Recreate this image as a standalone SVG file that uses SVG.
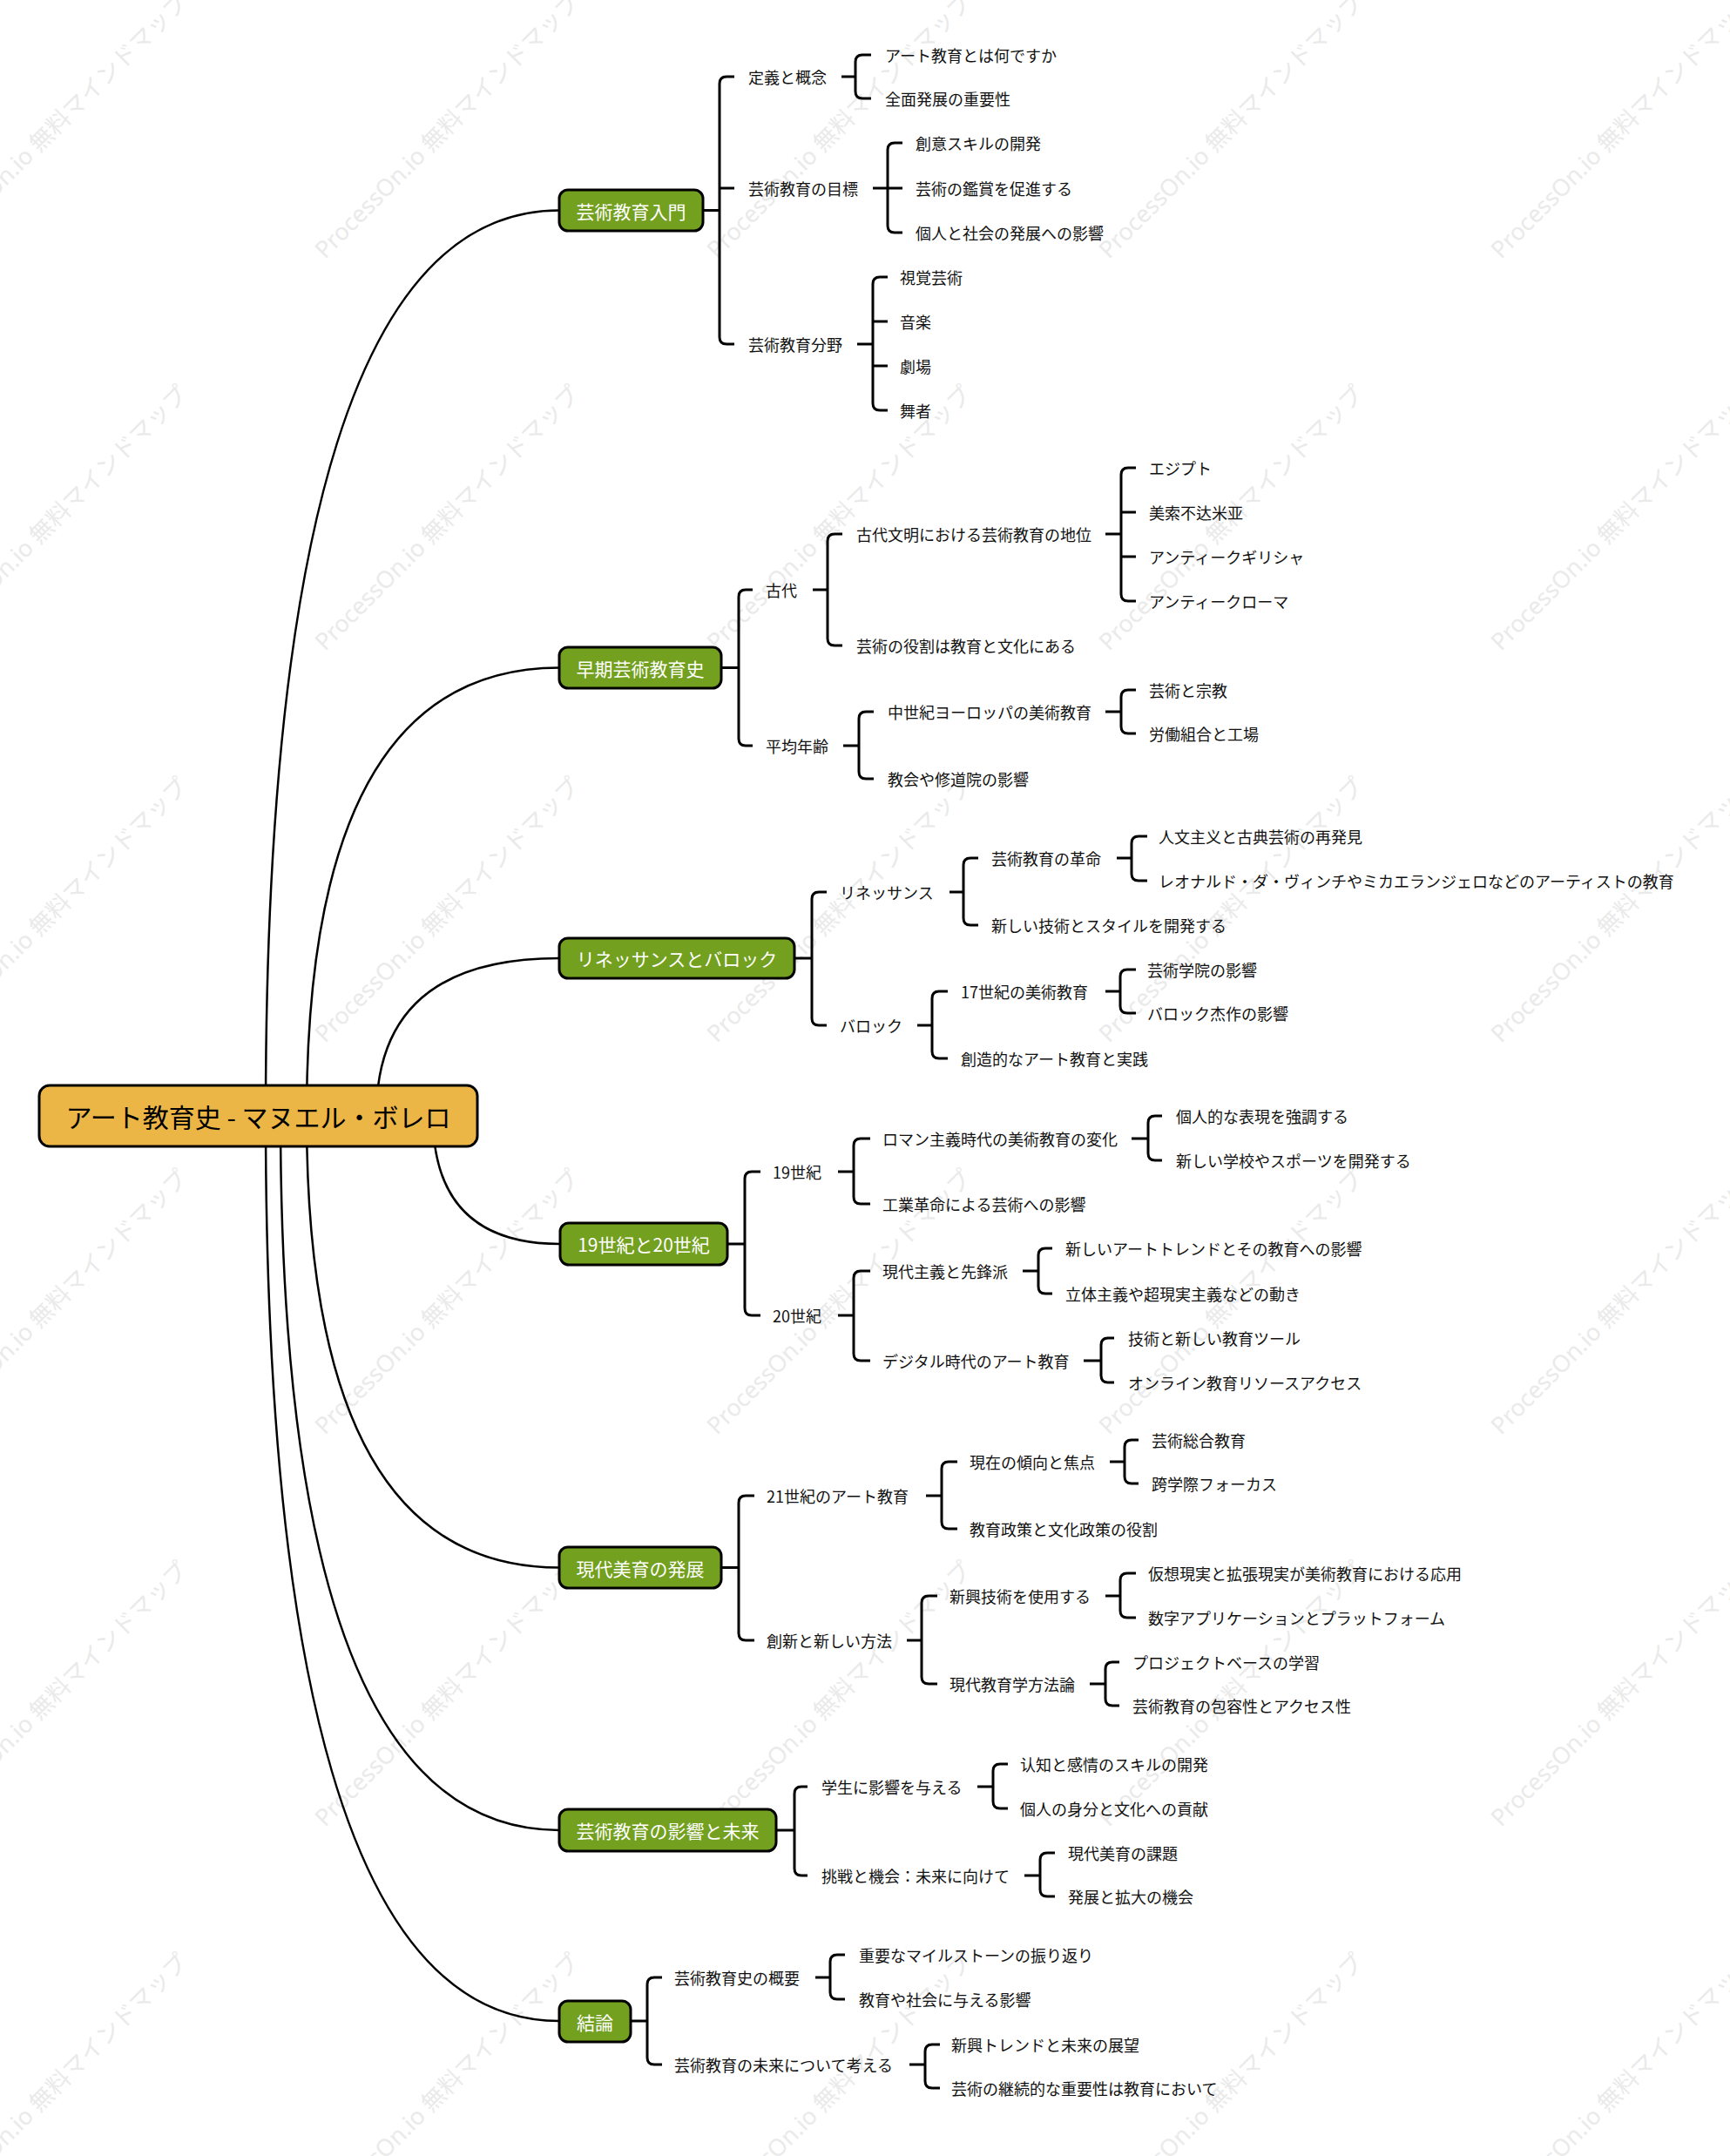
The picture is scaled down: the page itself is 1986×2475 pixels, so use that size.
<svg xmlns="http://www.w3.org/2000/svg" xmlns:xlink="http://www.w3.org/1999/xlink" width="1986" height="2475" viewBox="0 0 1986 2475">
<style>
.wm{font-family:"Noto Sans","Noto Sans CJK JP",sans-serif;font-size:27px;fill:#EAEAEA}
.conn{fill:none;stroke:#000;stroke-width:2.5}
.br{fill:none;stroke:#000;stroke-width:3;stroke-linecap:butt}
.t{font-family:"Noto Sans CJK JP","Noto Sans",sans-serif;font-size:18px;fill:#111;dominant-baseline:central}
.main rect{fill:#73A01F;stroke:#000;stroke-width:3}
.main text{font-family:"Noto Sans CJK JP","Noto Sans",sans-serif;font-size:21px;fill:#fff;text-anchor:middle;dominant-baseline:central}
.root rect{fill:#ECB647;stroke:#000;stroke-width:3}
.root text{font-family:"Noto Sans CJK JP","Noto Sans",sans-serif;font-size:30px;fill:#000;text-anchor:middle;dominant-baseline:central}
</style>
<defs>
<text id="wmt" class="wm">ProcessOn.io 無料マインドマップ</text>
</defs>
<rect width="1986" height="2475" fill="#fff"/>
<g id="watermark">
<use xlink:href="#wmt" transform="translate(-77,298) rotate(-45)"/>
<use xlink:href="#wmt" transform="translate(373,298) rotate(-45)"/>
<use xlink:href="#wmt" transform="translate(823,298) rotate(-45)"/>
<use xlink:href="#wmt" transform="translate(1273,298) rotate(-45)"/>
<use xlink:href="#wmt" transform="translate(1723,298) rotate(-45)"/>
<use xlink:href="#wmt" transform="translate(-77,748) rotate(-45)"/>
<use xlink:href="#wmt" transform="translate(373,748) rotate(-45)"/>
<use xlink:href="#wmt" transform="translate(823,748) rotate(-45)"/>
<use xlink:href="#wmt" transform="translate(1273,748) rotate(-45)"/>
<use xlink:href="#wmt" transform="translate(1723,748) rotate(-45)"/>
<use xlink:href="#wmt" transform="translate(-77,1198) rotate(-45)"/>
<use xlink:href="#wmt" transform="translate(373,1198) rotate(-45)"/>
<use xlink:href="#wmt" transform="translate(823,1198) rotate(-45)"/>
<use xlink:href="#wmt" transform="translate(1273,1198) rotate(-45)"/>
<use xlink:href="#wmt" transform="translate(1723,1198) rotate(-45)"/>
<use xlink:href="#wmt" transform="translate(-77,1648) rotate(-45)"/>
<use xlink:href="#wmt" transform="translate(373,1648) rotate(-45)"/>
<use xlink:href="#wmt" transform="translate(823,1648) rotate(-45)"/>
<use xlink:href="#wmt" transform="translate(1273,1648) rotate(-45)"/>
<use xlink:href="#wmt" transform="translate(1723,1648) rotate(-45)"/>
<use xlink:href="#wmt" transform="translate(-77,2098) rotate(-45)"/>
<use xlink:href="#wmt" transform="translate(373,2098) rotate(-45)"/>
<use xlink:href="#wmt" transform="translate(823,2098) rotate(-45)"/>
<use xlink:href="#wmt" transform="translate(1273,2098) rotate(-45)"/>
<use xlink:href="#wmt" transform="translate(1723,2098) rotate(-45)"/>
<use xlink:href="#wmt" transform="translate(-77,2548) rotate(-45)"/>
<use xlink:href="#wmt" transform="translate(373,2548) rotate(-45)"/>
<use xlink:href="#wmt" transform="translate(823,2548) rotate(-45)"/>
<use xlink:href="#wmt" transform="translate(1273,2548) rotate(-45)"/>
<use xlink:href="#wmt" transform="translate(1723,2548) rotate(-45)"/>
</g>
<g id="connectors">
<path class="conn" d="M305,1281 Q305,241.5 642,241.5"/>
<path class="conn" d="M352,1281 Q352,766.5 642,766.5"/>
<path class="conn" d="M432,1281 Q432,1100 642,1100"/>
<path class="conn" d="M497,1281 Q497,1428 643,1428"/>
<path class="conn" d="M352,1281 Q352,1799.5 642,1799.5"/>
<path class="conn" d="M322,1281 Q322,2101 642,2101"/>
<path class="conn" d="M305,1281 Q305,2320 642,2320"/>
<path class="br" d="M807,241.5H826 M843,88H834Q826,88 826,96V387Q826,395 834,395H843 M826,216H843"/>
<path class="br" d="M966,88H982 M1000,63H990Q982,63 982,71V105Q982,113 990,113H1000"/>
<path class="br" d="M1002,216H1019 M1036,164H1027Q1019,164 1019,172V259Q1019,267 1027,267H1036 M1019,216H1036"/>
<path class="br" d="M984,395H1002 M1019,318H1010Q1002,318 1002,326V463Q1002,471 1010,471H1019 M1002,369H1019 M1002,420H1019"/>
<path class="br" d="M828,766.5H848 M864,677H856Q848,677 848,685V848Q848,856 856,856H864"/>
<path class="br" d="M933,677H950 M967,613H958Q950,613 950,621V733Q950,741 958,741H967"/>
<path class="br" d="M1269,613H1287 M1304,537H1295Q1287,537 1287,545V682Q1287,690 1295,690H1304 M1287,588H1304 M1287,639H1304"/>
<path class="br" d="M968,856H986 M1003,817H994Q986,817 986,825V886Q986,894 994,894H1003"/>
<path class="br" d="M1269,817H1287 M1304,792H1295Q1287,792 1287,800V834Q1287,842 1295,842H1304"/>
<path class="br" d="M912,1100H932 M949,1024H940Q932,1024 932,1032V1169Q932,1177 940,1177H949"/>
<path class="br" d="M1090,1024H1106 M1123,985H1114Q1106,985 1106,993V1054Q1106,1062 1114,1062H1123"/>
<path class="br" d="M1282,985H1299 M1317,960H1307Q1299,960 1299,968V1003Q1299,1011 1307,1011H1317"/>
<path class="br" d="M1053,1177H1070 M1088,1138H1078Q1070,1138 1070,1146V1207Q1070,1215 1078,1215H1088"/>
<path class="br" d="M1269,1138H1286 M1304,1113H1294Q1286,1113 1286,1121V1155Q1286,1163 1294,1163H1304"/>
<path class="br" d="M835,1428H855 M873,1345H863Q855,1345 855,1353V1502Q855,1510 863,1510H873"/>
<path class="br" d="M962,1345H980 M999,1307H988Q980,1307 980,1315V1374Q980,1382 988,1382H999"/>
<path class="br" d="M1299,1307H1318 M1334,1281H1326Q1318,1281 1318,1289V1324Q1318,1332 1326,1332H1334"/>
<path class="br" d="M962,1510H980 M999,1459H988Q980,1459 980,1467V1554Q980,1562 988,1562H999"/>
<path class="br" d="M1174,1459H1192 M1208,1433H1200Q1192,1433 1192,1441V1477Q1192,1485 1200,1485H1208"/>
<path class="br" d="M1244,1562H1264 M1279,1536H1272Q1264,1536 1264,1544V1579Q1264,1587 1272,1587H1279"/>
<path class="br" d="M828,1799.5H848 M866,1717H856Q848,1717 848,1725V1875Q848,1883 856,1883H866"/>
<path class="br" d="M1063,1717H1081 M1099,1678H1089Q1081,1678 1081,1686V1747Q1081,1755 1089,1755H1099"/>
<path class="br" d="M1274,1678H1291 M1307,1653H1299Q1291,1653 1291,1661V1695Q1291,1703 1299,1703H1307"/>
<path class="br" d="M1041,1883H1058 M1076,1832H1066Q1058,1832 1058,1840V1925Q1058,1933 1066,1933H1076"/>
<path class="br" d="M1269,1832H1286 M1304,1806H1294Q1286,1806 1286,1814V1849Q1286,1857 1294,1857H1304"/>
<path class="br" d="M1251,1933H1269 M1285,1908H1277Q1269,1908 1269,1916V1950Q1269,1958 1277,1958H1285"/>
<path class="br" d="M891,2101H912 M927,2051H920Q912,2051 912,2059V2145Q912,2153 920,2153H927"/>
<path class="br" d="M1122,2051H1140 M1157,2025H1148Q1140,2025 1140,2033V2068Q1140,2076 1148,2076H1157"/>
<path class="br" d="M1176,2153H1194 M1211,2127H1202Q1194,2127 1194,2135V2169Q1194,2177 1202,2177H1211"/>
<path class="br" d="M724,2320H743 M760,2270H751Q743,2270 743,2278V2362Q743,2370 751,2370H760"/>
<path class="br" d="M936,2270H953 M970,2244H961Q953,2244 953,2252V2287Q953,2295 961,2295H970"/>
<path class="br" d="M1044,2370H1062 M1079,2347H1070Q1062,2347 1062,2355V2389Q1062,2397 1070,2397H1079"/>
</g>
<g id="n-root" class="root"><rect x="45" y="1246" width="503" height="70" rx="12"/><text x="296.5" y="1281">アート教育史 - マヌエル・ボレロ</text></g>

<g id="n1" class="main"><rect x="642" y="218" width="165" height="47" rx="10"/><text x="724.5" y="241.5">芸術教育入門</text></g>
<g id="n1-1"><text class="t" x="859" y="88">定義と概念</text></g>
<g id="n1-1-1"><text class="t" x="1016" y="63">アート教育とは何ですか</text></g>
<g id="n1-1-2"><text class="t" x="1016" y="113">全面発展の重要性</text></g>
<g id="n1-2"><text class="t" x="859" y="216">芸術教育の目標</text></g>
<g id="n1-2-1"><text class="t" x="1051" y="164">創意スキルの開発</text></g>
<g id="n1-2-2"><text class="t" x="1051" y="216">芸術の鑑賞を促進する</text></g>
<g id="n1-2-3"><text class="t" x="1051" y="267">個人と社会の発展への影響</text></g>
<g id="n1-3"><text class="t" x="859" y="395">芸術教育分野</text></g>
<g id="n1-3-1"><text class="t" x="1033" y="318">視覚芸術</text></g>
<g id="n1-3-2"><text class="t" x="1033" y="369">音楽</text></g>
<g id="n1-3-3"><text class="t" x="1033" y="420">劇場</text></g>
<g id="n1-3-4"><text class="t" x="1033" y="471">舞者</text></g>

<g id="n2" class="main"><rect x="642" y="743" width="186" height="47" rx="10"/><text x="735" y="766.5">早期芸術教育史</text></g>
<g id="n2-1"><text class="t" x="879" y="677">古代</text></g>
<g id="n2-1-1"><text class="t" x="983" y="613">古代文明における芸術教育の地位</text></g>
<g id="n2-1-1-1"><text class="t" x="1319" y="537">エジプト</text></g>
<g id="n2-1-1-2"><text class="t" x="1319" y="588">美索不达米亚</text></g>
<g id="n2-1-1-3"><text class="t" x="1319" y="639">アンティークギリシャ</text></g>
<g id="n2-1-1-4"><text class="t" x="1319" y="690">アンティークローマ</text></g>
<g id="n2-1-2"><text class="t" x="983" y="741">芸術の役割は教育と文化にある</text></g>
<g id="n2-2"><text class="t" x="879" y="856">平均年齢</text></g>
<g id="n2-2-1"><text class="t" x="1019" y="817">中世紀ヨーロッパの美術教育</text></g>
<g id="n2-2-1-1"><text class="t" x="1319" y="792">芸術と宗教</text></g>
<g id="n2-2-1-2"><text class="t" x="1319" y="842">労働組合と工場</text></g>
<g id="n2-2-2"><text class="t" x="1019" y="894">教会や修道院の影響</text></g>

<g id="n3" class="main"><rect x="642" y="1077" width="270" height="46" rx="10"/><text x="777" y="1100">リネッサンスとバロック</text></g>
<g id="n3-1"><text class="t" x="964" y="1024">リネッサンス</text></g>
<g id="n3-1-1"><text class="t" x="1138" y="985">芸術教育の革命</text></g>
<g id="n3-1-1-1"><text class="t" x="1330" y="960">人文主义と古典芸術の再発見</text></g>
<g id="n3-1-1-2"><text class="t" x="1330" y="1011">レオナルド・ダ・ヴィンチやミカエランジェロなどのアーティストの教育</text></g>
<g id="n3-1-2"><text class="t" x="1138" y="1062">新しい技術とスタイルを開発する</text></g>
<g id="n3-2"><text class="t" x="964" y="1177">バロック</text></g>
<g id="n3-2-1"><text class="t" x="1103" y="1138">17世紀の美術教育</text></g>
<g id="n3-2-1-1"><text class="t" x="1317" y="1113">芸術学院の影響</text></g>
<g id="n3-2-1-2"><text class="t" x="1317" y="1163">バロック杰作の影響</text></g>
<g id="n3-2-2"><text class="t" x="1103" y="1215">創造的なアート教育と実践</text></g>

<g id="n4" class="main"><rect x="643" y="1404" width="192" height="48" rx="10"/><text x="739" y="1428">19世紀と20世紀</text></g>
<g id="n4-1"><text class="t" x="887" y="1345">19世紀</text></g>
<g id="n4-1-1"><text class="t" x="1013" y="1307">ロマン主義時代の美術教育の変化</text></g>
<g id="n4-1-1-1"><text class="t" x="1350" y="1281">個人的な表現を強調する</text></g>
<g id="n4-1-1-2"><text class="t" x="1350" y="1332">新しい学校やスポーツを開発する</text></g>
<g id="n4-1-2"><text class="t" x="1013" y="1382">工業革命による芸術への影響</text></g>
<g id="n4-2"><text class="t" x="887" y="1510">20世紀</text></g>
<g id="n4-2-1"><text class="t" x="1013" y="1459">現代主義と先鋒派</text></g>
<g id="n4-2-1-1"><text class="t" x="1223" y="1433">新しいアートトレンドとその教育への影響</text></g>
<g id="n4-2-1-2"><text class="t" x="1223" y="1485">立体主義や超現実主義などの動き</text></g>
<g id="n4-2-2"><text class="t" x="1013" y="1562">デジタル時代のアート教育</text></g>
<g id="n4-2-2-1"><text class="t" x="1295" y="1536">技術と新しい教育ツール</text></g>
<g id="n4-2-2-2"><text class="t" x="1295" y="1587">オンライン教育リソースアクセス</text></g>

<g id="n5" class="main"><rect x="642" y="1776" width="186" height="47" rx="10"/><text x="735" y="1799.5">現代美育の発展</text></g>
<g id="n5-1"><text class="t" x="880" y="1717">21世紀のアート教育</text></g>
<g id="n5-1-1"><text class="t" x="1113" y="1678">現在の傾向と焦点</text></g>
<g id="n5-1-1-1"><text class="t" x="1322" y="1653">芸術総合教育</text></g>
<g id="n5-1-1-2"><text class="t" x="1322" y="1703">跨学際フォーカス</text></g>
<g id="n5-1-2"><text class="t" x="1113" y="1755">教育政策と文化政策の役割</text></g>
<g id="n5-2"><text class="t" x="880" y="1883">創新と新しい方法</text></g>
<g id="n5-2-1"><text class="t" x="1090" y="1832">新興技術を使用する</text></g>
<g id="n5-2-1-1"><text class="t" x="1318" y="1806">仮想現実と拡張現実が美術教育における応用</text></g>
<g id="n5-2-1-2"><text class="t" x="1318" y="1857">数字アプリケーションとプラットフォーム</text></g>
<g id="n5-2-2"><text class="t" x="1090" y="1933">現代教育学方法論</text></g>
<g id="n5-2-2-1"><text class="t" x="1300" y="1908">プロジェクトベースの学習</text></g>
<g id="n5-2-2-2"><text class="t" x="1300" y="1958">芸術教育の包容性とアクセス性</text></g>

<g id="n6" class="main"><rect x="642" y="2077" width="249" height="48" rx="10"/><text x="766.5" y="2101">芸術教育の影響と未来</text></g>
<g id="n6-1"><text class="t" x="943" y="2051">学生に影響を与える</text></g>
<g id="n6-1-1"><text class="t" x="1171" y="2025">认知と感情のスキルの開発</text></g>
<g id="n6-1-2"><text class="t" x="1171" y="2076">個人の身分と文化への貢献</text></g>
<g id="n6-2"><text class="t" x="943" y="2153">挑戦と機会：未来に向けて</text></g>
<g id="n6-2-1"><text class="t" x="1226" y="2127">現代美育の課題</text></g>
<g id="n6-2-2"><text class="t" x="1226" y="2177">発展と拡大の機会</text></g>

<g id="n7" class="main"><rect x="642" y="2297" width="82" height="47" rx="10"/><text x="683" y="2320.5">結論</text></g>
<g id="n7-1"><text class="t" x="774" y="2270">芸術教育史の概要</text></g>
<g id="n7-1-1"><text class="t" x="986" y="2244">重要なマイルストーンの振り返り</text></g>
<g id="n7-1-2"><text class="t" x="986" y="2295">教育や社会に与える影響</text></g>
<g id="n7-2"><text class="t" x="774" y="2370">芸術教育の未来について考える</text></g>
<g id="n7-2-1"><text class="t" x="1092" y="2347">新興トレンドと未来の展望</text></g>
<g id="n7-2-2"><text class="t" x="1092" y="2397">芸術の継続的な重要性は教育において</text></g>
</svg>
